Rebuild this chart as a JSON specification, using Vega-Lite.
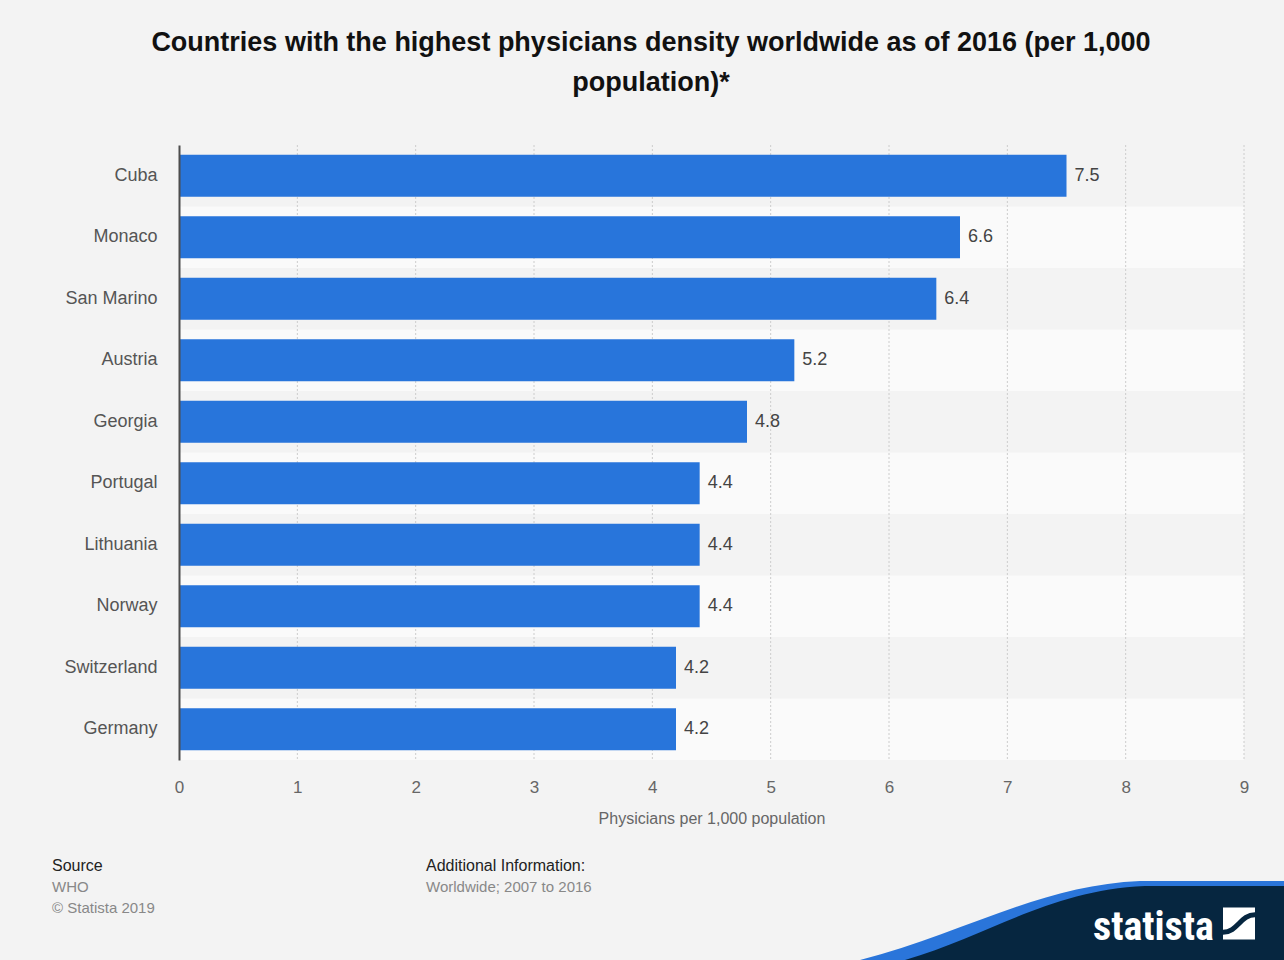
{
  "$schema": "https://vega.github.io/schema/vega-lite/v6.json",
  "background": "#f3f3f3",
  "padding": {"left": 52, "top": 28, "right": 0, "bottom": 0},
  "config": {
    "view": {"stroke": null},
    "font": "Liberation Sans"
  },
  "title": {
    "text": ["Countries with the highest physicians density worldwide as of 2016 (per 1,000", "population)*"],
    "fontSize": 27,
    "fontWeight": "bold",
    "color": "#111111",
    "lineHeight": 40,
    "anchor": "middle",
    "frame": "bounds",
    "dx": -17,
    "offset": 48
  },
  "datasets": {
    "physicians": [
      {"country": "Cuba", "density": 7.5},
      {"country": "Monaco", "density": 6.6},
      {"country": "San Marino", "density": 6.4},
      {"country": "Austria", "density": 5.2},
      {"country": "Georgia", "density": 4.8},
      {"country": "Portugal", "density": 4.4},
      {"country": "Lithuania", "density": 4.4},
      {"country": "Norway", "density": 4.4},
      {"country": "Switzerland", "density": 4.2},
      {"country": "Germany", "density": 4.2}
    ]
  },
  "bounds": "flush",
  "spacing": 95,
  "vconcat": [
    {
      "width": 1065,
      "height": 615,
      "data": {"name": "physicians"},
      "encoding": {
        "y": {
          "field": "country",
          "type": "nominal",
          "sort": null,
          "scale": {
            "domain": ["Cuba", "Monaco", "San Marino", "Austria", "Georgia", "Portugal", "Lithuania", "Norway", "Switzerland", "Germany"],
            "paddingInner": 0.32,
            "paddingOuter": 0.16
          },
          "axis": {
            "title": null,
            "ticks": false,
            "grid": false,
            "zindex": 1,
            "labelFontSize": 18,
            "labelColor": "#555555",
            "labelPadding": 22,
            "domainColor": "#4d4d4d",
            "domainWidth": 2
          }
        }
      },
      "layer": [
        {
          "transform": [{"filter": {"field": "country", "oneOf": ["Monaco", "Austria", "Portugal", "Norway", "Germany"]}}],
          "mark": {"type": "bar", "height": {"band": 1.470588}, "color": "#fafafa"},
          "encoding": {
            "x": {"datum": 0, "type": "quantitative"},
            "x2": {"datum": 9}
          }
        },
        {
          "data": {"values": [{"tick": 1}, {"tick": 2}, {"tick": 3}, {"tick": 4}, {"tick": 5}, {"tick": 6}, {"tick": 7}, {"tick": 8}, {"tick": 9}]},
          "mark": {"type": "rule", "color": "#cccccc", "strokeWidth": 1, "strokeDash": [2, 2]},
          "encoding": {
            "x": {"field": "tick", "type": "quantitative"},
            "y": null
          }
        },
        {
          "mark": {"type": "bar", "color": "#2875db"},
          "encoding": {
            "x": {
              "field": "density",
              "type": "quantitative",
              "scale": {"domain": [0, 9], "nice": false},
              "axis": {
                "title": "Physicians per 1,000 population",
                "values": [0, 1, 2, 3, 4, 5, 6, 7, 8, 9],
                "format": "d",
                "grid": false,
                "domain": false,
                "ticks": false,
                "labelFlush": false,
                "labelFontSize": 17,
                "labelColor": "#666666",
                "labelPadding": 19,
                "titleFontSize": 16,
                "titleFontWeight": "normal",
                "titleColor": "#666666",
                "titlePadding": 15
              }
            }
          }
        },
        {
          "mark": {"type": "text", "align": "left", "baseline": "middle", "dx": 8, "fontSize": 18, "color": "#444444"},
          "encoding": {
            "x": {"field": "density", "type": "quantitative"},
            "text": {"field": "density", "type": "quantitative", "format": ".1f"}
          }
        }
      ]
    },
    {
      "bounds": "flush",
      "spacing": 0,
      "hconcat": [
        {
          "width": 247,
          "height": 1,
          "data": {"values": []},
          "mark": "text",
          "title": {
            "text": "Source",
            "subtitle": ["WHO", "© Statista 2019"],
            "orient": "bottom",
            "anchor": "start",
            "frame": "group",
            "dx": -127,
            "offset": 2,
            "fontSize": 16,
            "fontWeight": "normal",
            "color": "#222222",
            "subtitleFontSize": 15,
            "subtitleColor": "#888888",
            "subtitlePadding": 6,
            "subtitleLineHeight": 21
          }
        },
        {
          "width": 434,
          "height": 1,
          "data": {"values": []},
          "mark": "text",
          "title": {
            "text": "Additional Information:",
            "subtitle": ["Worldwide; 2007 to 2016"],
            "orient": "bottom",
            "anchor": "start",
            "frame": "group",
            "offset": 2,
            "fontSize": 16,
            "fontWeight": "normal",
            "color": "#222222",
            "subtitleFontSize": 15,
            "subtitleColor": "#888888",
            "subtitlePadding": 6,
            "subtitleLineHeight": 21
          }
        },
        {
          "width": 424,
          "height": 105,
          "data": {"values": [{"brand": "statista"}]},
          "layer": [
            {
              "mark": {
                "type": "point",
                "clip": true,
                "filled": true,
                "opacity": 1,
                "color": "#2a75da",
                "size": 40000,
                "shape": "M -2.12,0.525 C -1.12,0.275 -0.32,-0.225 0.68,-0.265 L 2.3,-0.265 L 2.3,0.7 L -2.12,0.7 Z"
              },
              "encoding": {}
            },
            {
              "mark": {
                "type": "point",
                "clip": true,
                "filled": true,
                "opacity": 1,
                "color": "#062640",
                "size": 40000,
                "shape": "M -1.67,0.525 C -0.82,0.275 -0.22,-0.175 0.73,-0.215 L 2.3,-0.215 L 2.3,0.7 L -1.67,0.7 Z"
              },
              "encoding": {}
            },
            {
              "mark": {
                "type": "text",
                "align": "left",
                "baseline": "alphabetic",
                "dx": 21,
                "dy": 32,
                "font": "Liberation Sans Narrow, Roboto Condensed, Liberation Sans",
                "fontWeight": "bold",
                "fontSize": 40,
                "color": "#ffffff"
              },
              "encoding": {"text": {"field": "brand"}}
            },
            {
              "mark": {
                "type": "point",
                "filled": true,
                "opacity": 1,
                "shape": "square",
                "size": 1024,
                "color": "#ffffff",
                "xOffset": 167,
                "yOffset": 16
              },
              "encoding": {}
            },
            {
              "mark": {
                "type": "point",
                "filled": false,
                "opacity": 1,
                "shape": "M -1,0.55 C -0.1,0.55 0.1,-0.55 1,-0.55",
                "size": 1024,
                "color": "#062640",
                "strokeWidth": 5,
                "xOffset": 167,
                "yOffset": 16
              },
              "encoding": {}
            }
          ]
        }
      ]
    }
  ]
}
